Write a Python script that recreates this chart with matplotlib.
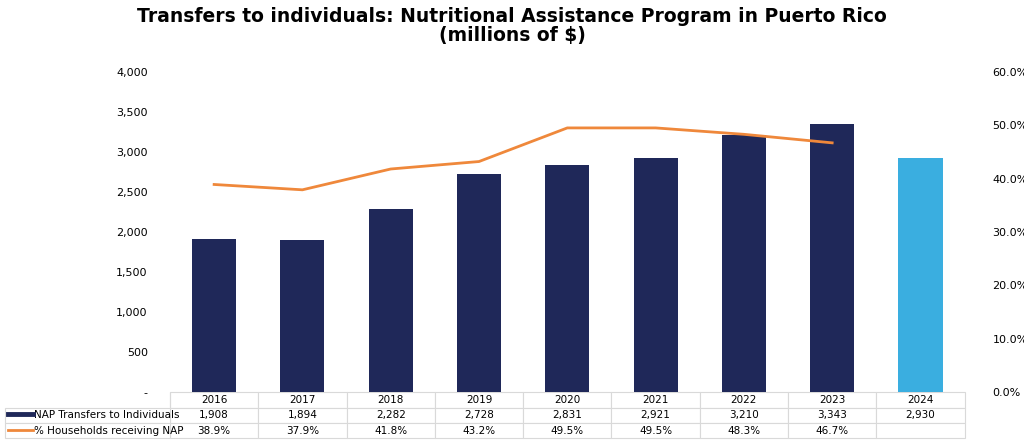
import numpy as np
import matplotlib.pyplot as plt
from matplotlib.lines import Line2D

years = ["2016", "2017", "2018", "2019", "2020", "2021", "2022", "2023", "2024"]
transfers = [1908, 1894, 2282, 2728, 2831, 2921, 3210, 3343, 2930]
households = [38.9, 37.9, 41.8, 43.2, 49.5, 49.5, 48.3, 46.7]

navy = "#1f2859"
light = "#3aaee0"
orange = "#ef883b"

fig = plt.figure(figsize=(10.24, 4.41), dpi=100)
ax = fig.add_axes([0.166, 0.111, 0.776, 0.726])
x = np.arange(len(years))
colors = [navy] * (len(years) - 1) + [light]
ax.bar(x, transfers, width=0.5, color=colors, zorder=2)
ax.set_xlim(-0.5, len(years) - 0.5)
ax.set_ylim(0, 4000)
ax.set_yticks(range(0, 4001, 500))
ax.set_yticklabels(["-"] + [f"{v:,}" for v in range(500, 4001, 500)])
ax.set_xticks([])
ax.tick_params(axis="y", length=0, labelsize=8, pad=16)
for s in ax.spines.values():
    s.set_visible(False)

ax2 = ax.twinx()
ax2.plot(x[:len(households)], households, color=orange, lw=2)
ax2.set_ylim(0, 60)
ax2.set_yticks(range(0, 61, 10))
ax2.set_yticklabels([f"{v:.1f}%" for v in range(0, 61, 10)])
ax2.tick_params(axis="y", length=0, labelsize=8, pad=20)
for s in ax2.spines.values():
    s.set_visible(False)

# data table
rows = [years,
        [f"{v:,}" for v in transfers],
        [f"{v:.1f}%" for v in households] + [""]]
h = 0.145
tab = ax.table(cellText=rows, cellLoc="center", bbox=[0, -h, 1, h])
tab.auto_set_font_size(False)
tab.set_fontsize(7.5)
for c in tab.get_celld().values():
    c.set_edgecolor("#d9d9d9")
    c.set_linewidth(0.8)

lab = ax.table(cellText=[[""], ["    NAP Transfers to Individuals"],
                         ["    % Households receiving NAP"]],
               cellLoc="left", bbox=[-0.208, -h, 0.208, h])
lab.auto_set_font_size(False)
lab.set_fontsize(7.5)
for (r, c), cell in lab.get_celld().items():
    cell.set_edgecolor("#d9d9d9")
    cell.set_linewidth(0.8)
    if r == 0:
        cell.visible_edges = "R"

fig.add_artist(Line2D([0.008, 0.032], [0.062, 0.062], color=navy, lw=3.5))
fig.add_artist(Line2D([0.008, 0.032], [0.026, 0.026], color=orange, lw=2))

fig.suptitle("Transfers to individuals: Nutritional Assistance Program in Puerto Rico\n(millions of $)",
             fontsize=13.5, fontweight="bold", y=0.985, linespacing=1.0)

fig.savefig("out.png", dpi=100)
